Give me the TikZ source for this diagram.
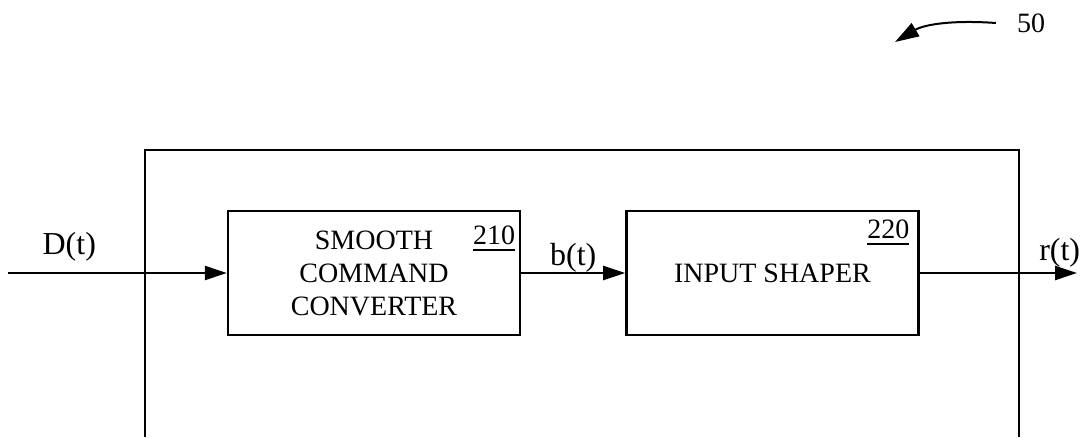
\documentclass[tikz,border=0pt]{standalone}
\usepackage{fontspec}
\setmainfont{Liberation Serif}
\usetikzlibrary{positioning,arrows.meta}
\newcommand{\blkfont}{\fontsize{28}{33}\selectfont}
\newcommand{\lblfont}{\fontsize{32}{36}\selectfont}
\newcommand{\refnum}[1]{\setbox0=\hbox{#1}\rlap{\rule[-6pt]{\wd0}{1.6pt}}\box0}

\begin{document}
\begin{tikzpicture}[
  x=1pt, y=-1pt,
  line width=2.4pt,
  box/.style={draw, align=center, minimum width=292pt, minimum height=124pt, inner sep=0pt, font=\blkfont},
  num/.style={anchor=base east, inner sep=0pt, font=\blkfont},
  lbl/.style={above, inner sep=0pt, font=\lblfont},
  sig/.style={-{Triangle[length=22pt,width=14pt]}}]
  \useasboundingbox (0,0) rectangle (1083,437);
  % housing, open at the bottom
  \draw (145,437) -- (145,150) -- (1019,150) -- (1019,437);
  \node[box] (conv) at (374,273) {SMOOTH\\COMMAND\\CONVERTER};
  \node[box, right=104pt of conv] (shaper) {INPUT SHAPER};
  \node[num] (n210) at ([shift={(-5pt,-35pt)}]conv.north east) {\refnum{210}};
  \node[num] (n220) at ([shift={(-9pt,-29pt)}]shaper.north east) {\refnum{220}};
  \coordinate (in) at (8,273);
  \coordinate (out) at (1077,273);
  \draw[sig] (in) -- node[lbl, pos=0.28, yshift=10pt]{D(t)} (conv.west);
  \draw[sig] (conv.east) -- node[lbl, yshift=-1pt]{b(t)} (shaper.west);
  \draw[sig] (shaper.east) -- node[lbl, pos=0.89, yshift=4pt]{r(t)} (out);
  % reference numeral
  \node[font=\blkfont, inner sep=0pt] (fig) at (1031,23) {50};
  \coordinate (figtip) at (895,42);
  \draw[-{Triangle[length=24pt,width=15pt]}, line width=2pt] ([xshift=-20pt]fig.west) .. controls (955,20) and (925,24) .. (figtip);
\end{tikzpicture}
\end{document}
